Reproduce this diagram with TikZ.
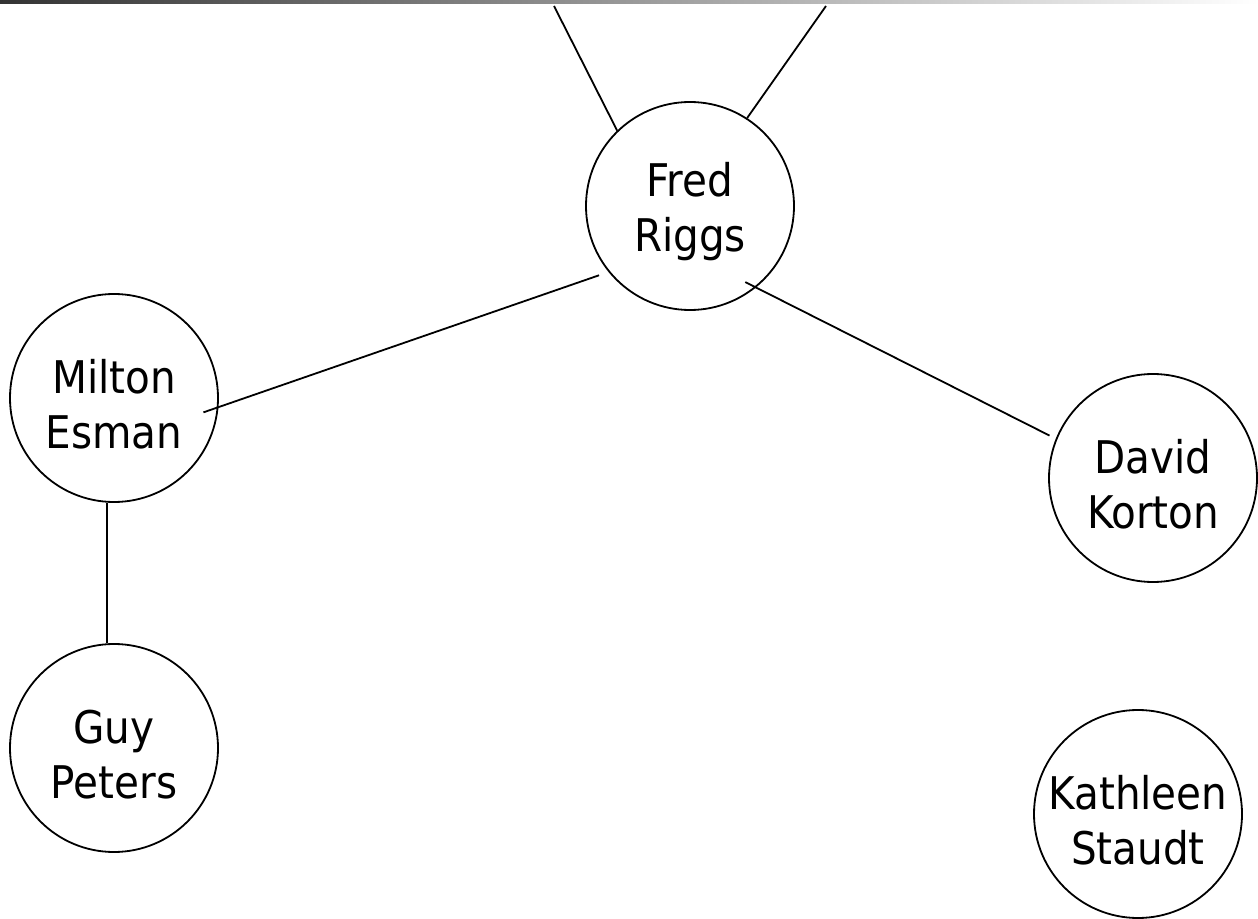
\documentclass[tikz,border=0pt]{standalone}
\usepackage{fontspec}
\setmainfont{DejaVu Sans Condensed}
\newcommand{\alto}{\rule{0pt}{23pt}}
\tikzset{
    persona/.style={draw, circle, line width=0.9pt, minimum size=104pt, inner sep=0pt,
        align=center, font=\fontsize{22.5}{27.5}\selectfont},
    enlace/.style={line width=0.9pt}
}
\begin{document}
\begin{tikzpicture}[x=0.5pt, y=-0.5pt]
    \useasboundingbox (0,0) rectangle (1258,919);
    % Barra superior
    \shade[left color=black!80, right color=white] (0,0) rectangle (1258,4);

    % Personas
    \node[persona] (fred) at (690,206) {\alto Fred\\Riggs};
    \node[persona] (milton) at (114,398) {\alto Milton\\Esman};
    \node[persona] (guy) at (114,748) {\alto Guy\\Peters};
    \node[persona] (david) at (1153,478) {\alto David\\Korton};
    \node[persona] (kathleen) at (1138,814) {\alto Kathleen\\Staudt};

    % Enlaces hacia fuera de la imagen
    \coordinate (arribaIzq) at (554,6);
    \coordinate (arribaDer) at (826,6);
    \draw[enlace] (fred.134.6) -- (arribaIzq);
    \draw[enlace] (fred.57.4) -- (arribaDer);

    % Enlaces entre personas
    \draw[enlace, shorten <=5pt, shorten >=-8pt] (fred.219.3) -- (milton.-5.2);
    \draw[enlace, shorten <=-6pt, shorten >=3.5pt] (fred.-51.6) -- (david.158.8);
    \draw[enlace] ([xshift=-3.5pt]milton.south) -- ([xshift=-3.5pt]guy.north);
\end{tikzpicture}
\end{document}
